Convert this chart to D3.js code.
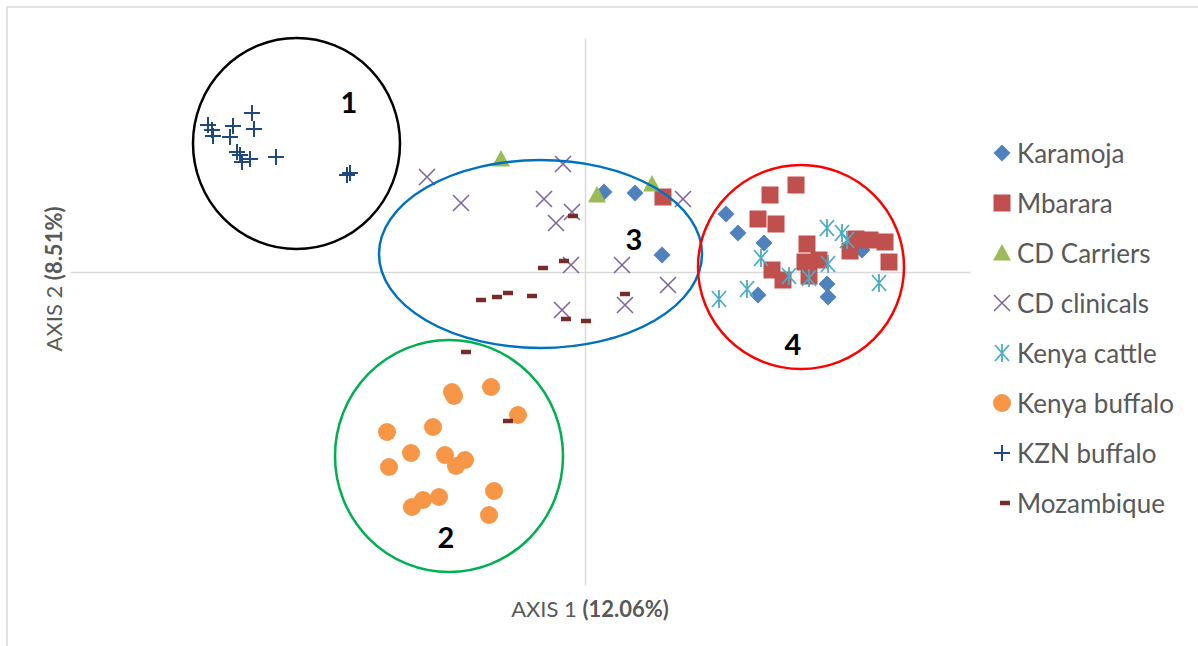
<!DOCTYPE html>
<html>
<head>
<meta charset="utf-8">
<script src="https://cdn.jsdelivr.net/npm/d3@7"></script>
<style>
  html, body { margin: 0; padding: 0; background: #fff; }
  svg { display: block; font-family: Lato, "Open Sans", sans-serif; }
</style>
</head>
<body>
<svg id="chart" width="1198" height="646"></svg>
<script>
// PCoA coordinates per group, [axis 1, axis 2]
const karamoja = [[0.19, 0.80], [0.50, 0.79], [0.77, 0.17], [1.41, 0.58], [1.53, 0.39], [1.79, 0.29],
  [1.73, -0.23], [2.42, -0.12], [2.43, -0.25], [2.77, 0.22]];
const mbarara = [[0.78, 0.75], [1.85, 0.77], [2.11, 0.87], [1.73, 0.53], [1.91, 0.48], [1.87, 0.02],
  [1.98, -0.08], [2.22, 0.28], [2.20, 0.10], [2.34, 0.12], [2.24, -0.04], [2.71, 0.33], [2.85, 0.32],
  [3.00, 0.30], [2.65, 0.21], [3.04, 0.10]];
const cdCarriers = [[-0.84, 1.13], [0.12, 0.77], [0.67, 0.88]];
const cdClinicals = [[-1.58, 0.95], [-0.22, 1.08], [-1.24, 0.69], [-0.41, 0.73], [-0.13, 0.60], [-0.29, 0.49],
  [0.98, 0.73], [-0.14, 0.07], [0.37, 0.07], [0.83, -0.13], [-0.23, -0.38], [0.40, -0.33]];
const kenyaCattle = [[1.76, 0.14], [1.34, -0.27], [1.62, -0.17], [2.04, -0.04], [2.24, -0.06], [2.43, 0.08],
  [2.42, 0.44], [2.57, 0.39], [2.62, 0.32], [2.94, -0.11]];
const kenyaBuffalo = [[-1.33, -1.20], [-1.31, -1.24], [-0.94, -1.15], [-0.67, -1.43], [-1.98, -1.60],
  [-1.52, -1.55], [-1.74, -1.81], [-1.40, -1.83], [-1.96, -1.95], [-1.20, -1.88], [-1.29, -1.94],
  [-0.91, -2.19], [-1.62, -2.28], [-1.46, -2.25], [-1.73, -2.35], [-0.96, -2.43]];
const kznBuffalo = [[-3.33, 1.59], [-3.77, 1.47], [-3.73, 1.42], [-3.72, 1.36], [-3.52, 1.46], [-3.55, 1.35],
  [-3.31, 1.43], [-3.48, 1.20], [-3.45, 1.17], [-3.43, 1.10], [-3.35, 1.13], [-3.09, 1.15],
  [-2.38, 0.97], [-2.35, 0.99]];
const mozambique = [[-0.12, 0.56], [-0.42, 0.04], [-0.21, 0.11], [-1.04, -0.28], [-0.88, -0.25],
  [-0.77, -0.21], [-0.53, -0.24], [0.40, -0.22], [-0.19, -0.47], [0.01, -0.49], [-1.19, -0.80],
  [-0.77, -1.49]];

const seriesNames = ["Karamoja", "Mbarara", "CD Carriers", "CD clinicals", "Kenya cattle",
  "Kenya buffalo", "KZN buffalo", "Mozambique"];
const seriesValues = [karamoja, mbarara, cdCarriers, cdClinicals, kenyaCattle, kenyaBuffalo, kznBuffalo, mozambique];

// Cluster outlines: label, centre and radii in axis units
const clusterLabels = ["1", "2", "3", "4"];
const clusterCentres = [[-2.885, 1.285], [-1.36, -1.84], [-0.445, 0.18], [2.16, 0.05]];
const clusterRadii = [[1.035, 1.055], [1.14, 1.16], [1.615, 0.94], [1.03, 1.02]];
const clusterLabelAt = [[-2.36, 1.71], [-1.39, -2.64], [0.49, 0.34], [2.08, -0.71]];

const axisTitles = { x: ["AXIS 1 ", "(12.06%)"], y: ["AXIS 2 ", "(8.51%)"] };

// ---- styles ----
const markerStyle = {
  "Karamoja":      { shape: "diamond",  color: "#4f81bd" },
  "Mbarara":       { shape: "square",   color: "#c0504d" },
  "CD Carriers":   { shape: "triangle", color: "#9bbb59" },
  "CD clinicals":  { shape: "cross",    color: "#8064a2" },
  "Kenya cattle":  { shape: "star",     color: "#4bacc6" },
  "Kenya buffalo": { shape: "circle",   color: "#f79646" },
  "KZN buffalo":   { shape: "plus",     color: "#1f497d" },
  "Mozambique":    { shape: "dash",     color: "#772c2a" }
};
const clusterColors = ["#000000", "#00b050", "#0070c0", "#ff0000"];

const svg = d3.select("#chart");

// outer chart frame
svg.append("rect").attr("x", 7).attr("y", 7).attr("width", 1220).attr("height", 660)
  .attr("fill", "none").attr("stroke", "#d9d9d9").attr("stroke-width", 1.5);

const x = d3.scaleLinear().domain([-5.15, 3.85]).range([70, 970]);
const y = d3.scaleLinear().domain([-3.13, 2.34]).range([585, 38]);

// axes crossing at the origin, no ticks
const axisX = svg.append("g").attr("transform", `translate(0,${y(0)})`)
  .call(d3.axisBottom(x).tickValues([]).tickSizeOuter(0));
const axisY = svg.append("g").attr("transform", `translate(${x(0)},0)`)
  .call(d3.axisLeft(y).tickValues([]).tickSizeOuter(0));
[axisX, axisY].forEach(a => a.select(".domain").attr("stroke", "#d9d9d9").attr("stroke-width", 1.5));

// axis titles
const titleX = svg.append("text").attr("x", x(0) + 5).attr("y", 617)
  .attr("text-anchor", "middle").attr("font-size", 22).attr("fill", "#595959");
titleX.append("tspan").text(axisTitles.x[0]);
titleX.append("tspan").attr("font-weight", "bold").text(axisTitles.x[1]);

const titleY = svg.append("text").attr("transform", `translate(62,${y(0) + 7}) rotate(-90)`)
  .attr("text-anchor", "middle").attr("font-size", 22).attr("fill", "#595959");
titleY.append("tspan").text(axisTitles.y[0]);
titleY.append("tspan").attr("font-weight", "bold").text(axisTitles.y[1]);

// marker drawing
function drawMarker(g, shape, color) {
  switch (shape) {
    case "diamond":
      g.append("path").attr("d", "M0,-8.5L8.5,0L0,8.5L-8.5,0Z").attr("fill", color);
      break;
    case "square":
      g.append("rect").attr("x", -8.5).attr("y", -8.5).attr("width", 17).attr("height", 17).attr("fill", color);
      break;
    case "triangle":
      g.append("path").attr("d", "M0,-9L9,7.5L-9,7.5Z").attr("fill", color);
      break;
    case "circle":
      g.append("circle").attr("r", 9).attr("fill", color);
      break;
    case "cross":
      g.append("path").attr("d", "M-8,-8L8,8M-8,8L8,-8").attr("stroke", color)
        .attr("stroke-width", 1.6).attr("fill", "none");
      break;
    case "plus":
      g.append("path").attr("d", "M-8,0L8,0M0,-8L0,8").attr("stroke", color)
        .attr("stroke-width", 2).attr("fill", "none");
      break;
    case "star":
      g.append("path").attr("d", "M-7,-8L7,8M-7,8L7,-8M0,-9L0,9").attr("stroke", color)
        .attr("stroke-width", 1.8).attr("fill", "none");
      break;
    case "dash":
      g.append("rect").attr("x", -5).attr("y", -2.25).attr("width", 10).attr("height", 4.5).attr("fill", color);
      break;
  }
}

// scatter points, series drawn in order
seriesNames.forEach((name, i) => {
  const st = markerStyle[name];
  svg.append("g").attr("class", "series")
    .selectAll("g").data(seriesValues[i]).join("g")
    .attr("transform", d => `translate(${x(d[0])},${y(d[1])})`)
    .each(function () { drawMarker(d3.select(this), st.shape, st.color); });
});

// cluster outlines and numbers
clusterLabels.forEach((lab, i) => {
  const c = clusterCentres[i], r = clusterRadii[i];
  svg.append("ellipse")
    .attr("cx", x(c[0])).attr("cy", y(c[1]))
    .attr("rx", x(r[0]) - x(0)).attr("ry", y(0) - y(r[1]))
    .attr("fill", "none").attr("stroke", clusterColors[i]).attr("stroke-width", 2.5);
  svg.append("text").attr("x", x(clusterLabelAt[i][0])).attr("y", y(clusterLabelAt[i][1]))
    .attr("text-anchor", "middle").attr("dominant-baseline", "central")
    .attr("font-size", 29).attr("font-weight", "bold").attr("fill", "#000").text(lab);
});

// legend
const legend = svg.append("g").attr("transform", "translate(1002,153)");
seriesNames.forEach((name, i) => {
  const row = legend.append("g").attr("transform", `translate(0,${i * 50})`);
  const m = row.append("g").attr("transform", name === "Mozambique" ? "translate(3,0)" : null);
  drawMarker(m, markerStyle[name].shape, markerStyle[name].color);
  row.append("text").attr("x", 15).attr("y", 0).attr("dominant-baseline", "central")
    .attr("font-size", 26).attr("fill", "#595959").text(name);
});
</script>
</body>
</html>
